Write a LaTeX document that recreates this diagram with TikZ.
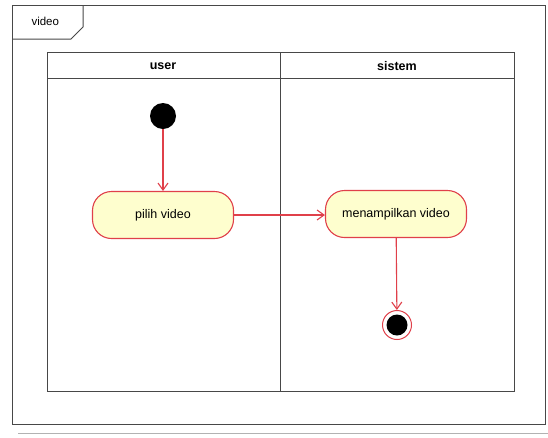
\documentclass[tikz,border=0pt]{standalone}
\usepackage{fontspec}
\setmainfont{Liberation Sans}
\usetikzlibrary{arrows.meta}
\definecolor{umlred}{HTML}{E0404A}
\definecolor{umlfill}{HTML}{FEFECE}
\definecolor{frameline}{HTML}{484848}
\tikzset{
  frameline/.style={draw=frameline, line width=1pt},
  action/.style={draw=umlred, fill=umlfill, rounded corners=19pt, minimum width=141pt,
    minimum height=47pt, font=\fontsize{12.5}{14}\selectfont, line width=1.1pt},
  startnode/.style={circle, fill=black, minimum size=26pt, inner sep=0pt},
  endnode/.style={circle, draw=umlred, fill=white, minimum size=29pt, inner sep=0pt, line width=1pt},
  flow/.style={draw=umlred, line width=1.1pt, -{Straight Barb[length=7pt, width=10pt]}},
  lanetitle/.style={font=\bfseries\fontsize{12.5}{14}\selectfont},
}
\begin{document}
\begin{tikzpicture}[x=1pt, y=-1pt]
  \useasboundingbox (0,0) rectangle (548,437);
  \fill[white] (0,0) rectangle (548,437);
  % outer frame with its name tab
  \draw[frameline] (12,5) rectangle (545,424);
  \draw[frameline] (12,39) -- (71,39) -- (83,27) -- (83,5);
  \node[anchor=west, font=\fontsize{11.5}{13}\selectfont] (frametitle) at (28,21) {video};
  \draw[draw=gray!60, line width=1pt] (18,433) -- (548,433);
  % swimlanes
  \draw[frameline] (47,52) rectangle (514,391);
  \draw[frameline] (47,78) -- (514,78);
  \draw[frameline] (280,52) -- (280,391);
  \node[lanetitle] (laneuser) at (163,66) {user};
  \node[lanetitle] (lanesistem) at (397,66) {sistem};
  % activity nodes
  \node[startnode] (start) at (163,116) {};
  \node[action] (pilih) at (163,215) {pilih video};
  \node[action] (tampil) at (396,214) {menampilkan video};
  \node[endnode] (stop) at (397,325) {};
  \fill[black] (stop.center) circle (10.5pt);
  % control flows
  \draw[flow] (start) -- (pilih);
  \draw[flow] (pilih.east) -- (pilih.east -| tampil.west);
  \draw[flow] (tampil) -- (stop);
\end{tikzpicture}
\end{document}
